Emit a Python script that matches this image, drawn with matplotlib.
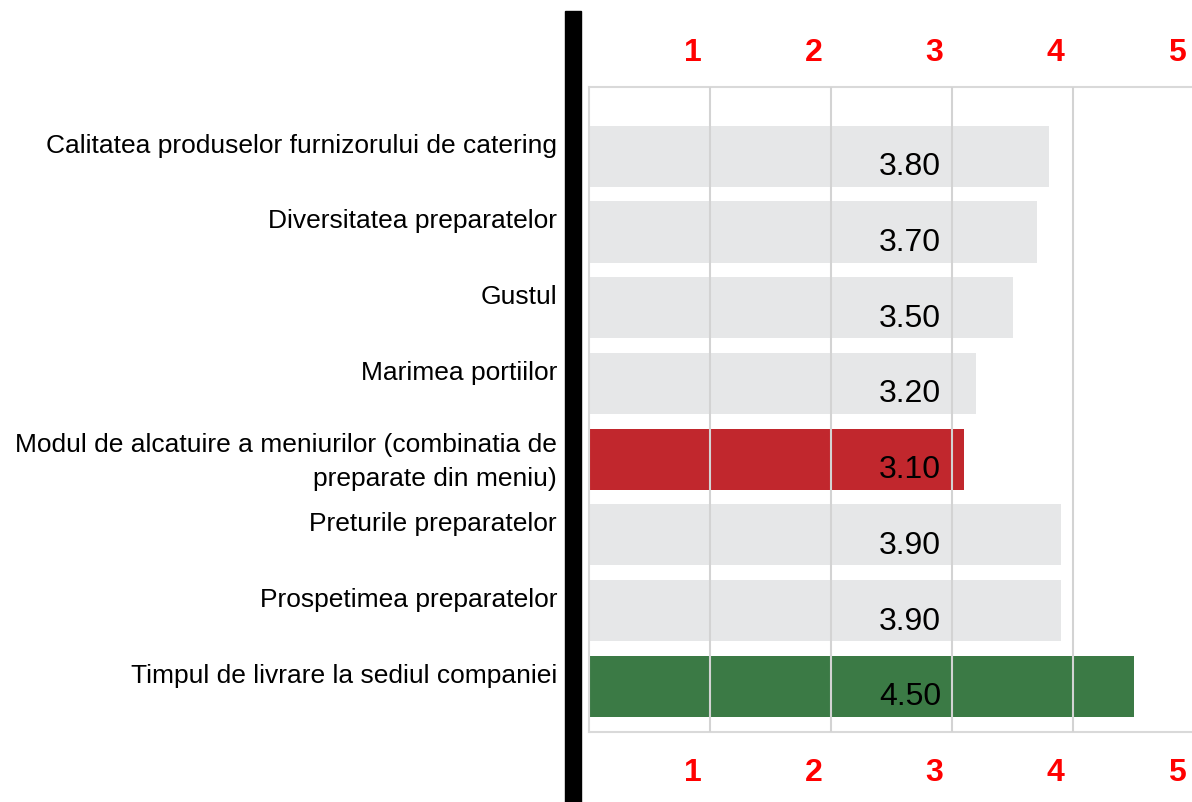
import matplotlib
matplotlib.use("Agg")
import matplotlib.pyplot as plt
import matplotlib.transforms as mtransforms
from matplotlib.patches import Rectangle

categories = [
    "Calitatea produselor furnizorului de catering",
    "Diversitatea preparatelor",
    "Gustul",
    "Marimea portiilor",
    "Modul de alcatuire a meniurilor (combinatia de\npreparate din meniu)",
    "Preturile preparatelor",
    "Prospetimea preparatelor",
    "Timpul de livrare la sediul companiei",
]
values = [3.80, 3.70, 3.50, 3.20, 3.10, 3.90, 3.90, 4.50]
bar_colors = ["#e6e7e8", "#e6e7e8", "#e6e7e8", "#e6e7e8",
              "#c1272d", "#e6e7e8", "#e6e7e8", "#3b7a45"]
tick_values = [1, 2, 3, 4, 5]
tick_labels = ["1", "2", "3", "4", "5"]

W, H, DPI = 1192, 803, 100
plt.rcParams['font.family'] = ['Liberation Sans', 'DejaVu Sans']
fig = plt.figure(figsize=(W / DPI, H / DPI), dpi=DPI)

ax_left, ax_right, ax_top, ax_bottom = 589, 1194, 87.5, 732.7
ax = fig.add_axes([ax_left / W, (H - ax_bottom) / H,
                   (ax_right - ax_left) / W, (ax_bottom - ax_top) / H])

y = list(range(len(categories)))
ax.barh(y, values, height=0.806, color=bar_colors, zorder=1, align='center')

ax.set_xlim(0, 5)
ax.set_ylim(7.601, -0.922)
ax.set_xticks(tick_values)
ax.set_yticks([])
ax.tick_params(axis='x', length=0, labelbottom=False, labeltop=False)
ax.grid(axis='x', color='#d3d3d3', linewidth=1.5, zorder=2)
ax.set_axisbelow(False)
for s in ['left', 'top', 'bottom', 'right']:
    ax.spines[s].set_color('#d9d9d9')
    ax.spines[s].set_linewidth(1.5)

px = 1.0 / DPI
# value labels
for i, v in enumerate(values):
    tr = ax.transData + mtransforms.ScaledTranslation(0, -18 * px, fig.dpi_scale_trans)
    ax.text(2.91, i, f"{v:.2f}", ha='right', va='baseline', fontsize=23,
            color='black', transform=tr, zorder=5)

# category labels
for i, c in enumerate(categories):
    top = i - 0.403
    if "\n" in c:
        tr = ax.transData + mtransforms.ScaledTranslation(0, -3 * px, fig.dpi_scale_trans)
        ax.text(557 / W, top, c, ha='right', va='top', fontsize=19, linespacing=1.55,
                transform=mtransforms.blended_transform_factory(fig.transFigure, tr))
    else:
        tr = ax.transData + mtransforms.ScaledTranslation(0, -26 * px, fig.dpi_scale_trans)
        ax.text(557 / W, top, c, ha='right', va='baseline', fontsize=19,
                transform=mtransforms.blended_transform_factory(fig.transFigure, tr))

# red tick labels top and bottom
for v, lab in zip(tick_values, tick_labels):
    base = mtransforms.blended_transform_factory(ax.transData, fig.transFigure)
    tr = base + mtransforms.ScaledTranslation(-17.5 * px, 0, fig.dpi_scale_trans)
    ax.text(v, (H - 61) / H, lab, ha='center', va='baseline', fontsize=23,
            fontweight='bold', color='#ff0000', transform=tr, clip_on=False)
    ax.text(v, (H - 781) / H, lab, ha='center', va='baseline', fontsize=23,
            fontweight='bold', color='#ff0000', transform=tr, clip_on=False)

# black vertical bar
fig.add_artist(Rectangle((565 / W, 0), 16 / W, (H - 12) / H,
                         transform=fig.transFigure, color='black'))

fig.savefig("out.png", dpi=DPI)
